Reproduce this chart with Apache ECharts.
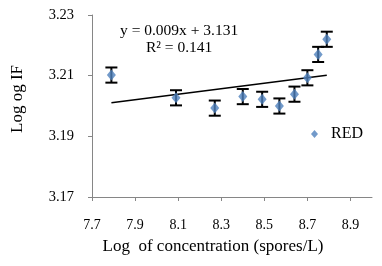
<!DOCTYPE html>
<html>
<head>
<meta charset="utf-8">
<script src="https://cdn.jsdelivr.net/npm/echarts@6/dist/echarts.min.js"></script>
<style>
  html, body { margin: 0; padding: 0; background: #fff; }
  #chart { width: 382px; height: 266px; }
</style>
</head>
<body>
<div id="chart"></div>
<script>
// data
var logConc = [7.79, 8.09, 8.27, 8.40, 8.49, 8.57, 8.64, 8.70, 8.75, 8.79];
var logIF = [3.2102, 3.2027, 3.1993, 3.2031, 3.2022, 3.2000, 3.2039, 3.2093, 3.2170, 3.2220];
var errIF = [0.0025, 0.0025, 0.0025, 0.0025, 0.0025, 0.0025, 0.0025, 0.0025, 0.0025, 0.0025];
var xTicks = [7.7, 7.9, 8.1, 8.3, 8.5, 8.7, 8.9];
var yTicks = [3.17, 3.19, 3.21, 3.23];
var slope = 0.009;
var intercept = 3.131;
var rSquared = 0.141;

var serif = '"Liberation Serif", "DejaVu Serif", serif';
var axisGrey = '#868686';
var blue = '#4F81BD';

var points = logConc.map(function (x, i) { return [x, logIF[i]]; });
var bars = logConc.map(function (x, i) { return [x, logIF[i] - errIF[i], logIF[i] + errIF[i]]; });
var xLo = Math.min.apply(null, logConc), xHi = Math.max.apply(null, logConc);
var trend = [[xLo, slope * xLo + intercept], [xHi, slope * xHi + intercept]];

var chart = echarts.init(document.getElementById('chart'));
chart.setOption({
    animation: false,
    grid: { left: 92, top: 15, right: 10, bottom: 69 },
    xAxis: {
        type: 'value', min: 7.7, max: 9.0,
        name: 'Log  of concentration (spores/L)',
        nameLocation: 'middle', nameGap: 41,
        nameTextStyle: { fontFamily: serif, fontSize: 17, color: '#000', padding: [0, 38, 0, 0] },
        axisLine: { lineStyle: { color: axisGrey } },
        axisTick: { show: true, length: 4, customValues: xTicks, lineStyle: { color: axisGrey } },
        axisLabel: { customValues: xTicks, fontFamily: serif, fontSize: 14, color: '#000', margin: 21,
            formatter: function (v) { return v.toFixed(1); } },
        splitLine: { show: false }
    },
    yAxis: {
        type: 'value', min: 3.17, max: 3.23, interval: 0.02,
        name: 'Log og IF',
        nameLocation: 'middle', nameGap: 66, nameRotate: 90,
        nameTextStyle: { fontFamily: serif, fontSize: 17, color: '#000', padding: [0, 0, 0, 14] },
        axisLine: { show: true, lineStyle: { color: axisGrey } },
        axisTick: { show: true, length: 4, lineStyle: { color: axisGrey } },
        axisLabel: { fontFamily: serif, fontSize: 14.5, color: '#000', margin: 18,
            formatter: function (v) { return v.toFixed(2); } },
        splitLine: { show: false }
    },
    legend: {
        data: [{ name: 'RED', icon: 'diamond' }],
        left: 306, top: 121, itemWidth: 7, itemHeight: 8, itemGap: 10,
        textStyle: { fontFamily: serif, fontSize: 16, color: '#000', padding: [0, 0, 0, 8] }
    },
    graphic: [
        { type: 'text', left: 120, top: 23,
          style: { text: 'y = ' + slope.toFixed(3) + 'x + ' + intercept.toFixed(3), font: '15.5px ' + serif, fill: '#000' } },
        { type: 'text', left: 146, top: 40,
          style: { text: 'R\u00b2 = ' + rSquared.toFixed(3), font: '15.5px ' + serif, fill: '#000' } }
    ],
    series: [
        {
            name: 'trend', type: 'line', data: trend, symbol: 'none',
            lineStyle: { color: '#000', width: 1.5 }, z: 1, silent: true
        },
        {
            name: 'err', type: 'custom', data: bars, z: 2, silent: true,
            renderItem: function (params, api) {
                var x = api.value(0);
                var lo = api.coord([x, api.value(1)]);
                var hi = api.coord([x, api.value(2)]);
                var w = 6;
                var st = { stroke: '#000', lineWidth: 2 };
                return { type: 'group', children: [
                    { type: 'line', shape: { x1: lo[0], y1: lo[1], x2: hi[0], y2: hi[1] }, style: st },
                    { type: 'line', shape: { x1: lo[0] - w, y1: lo[1], x2: lo[0] + w, y2: lo[1] }, style: st },
                    { type: 'line', shape: { x1: hi[0] - w, y1: hi[1], x2: hi[0] + w, y2: hi[1] }, style: st }
                ] };
            }
        },
        {
            name: 'RED', type: 'scatter', data: points, z: 3,
            symbol: 'diamond', symbolSize: [9, 11],
            itemStyle: { color: blue }
        }
    ]
});
</script>
</body>
</html>
